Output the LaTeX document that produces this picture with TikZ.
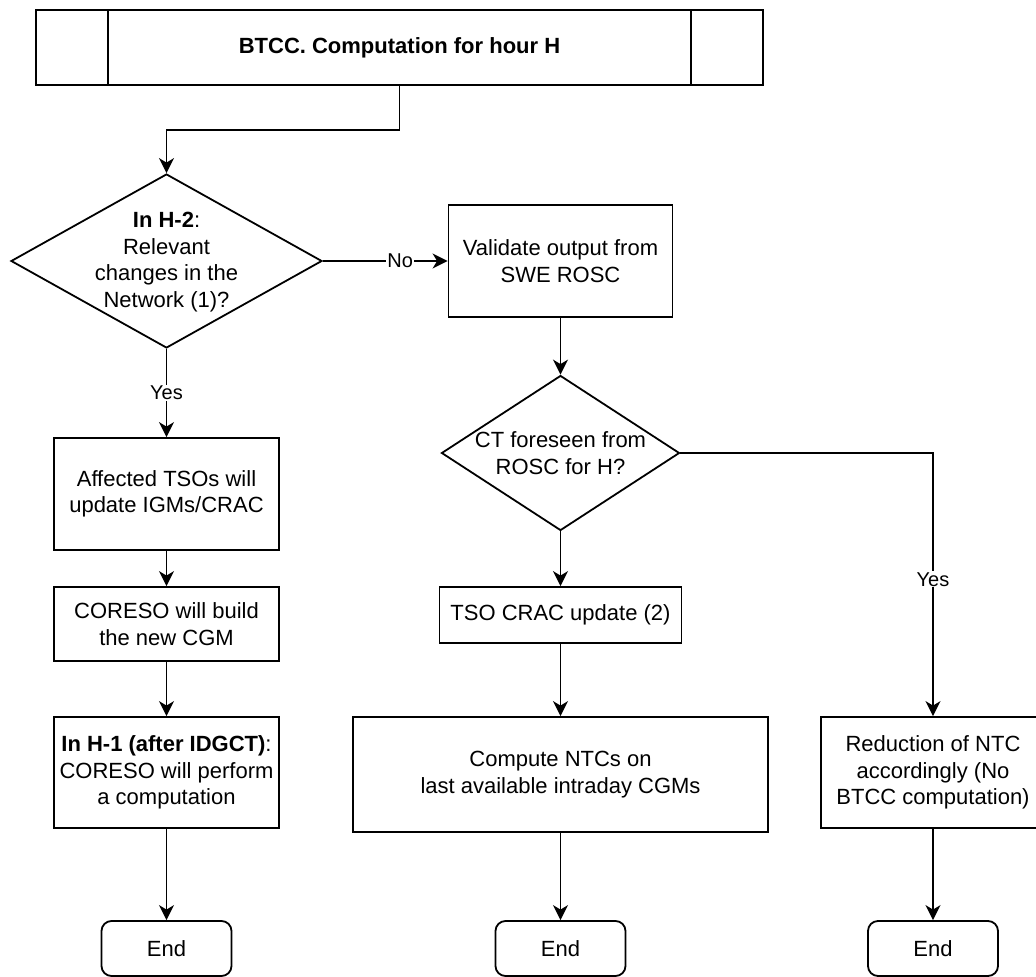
\documentclass[tikz,border=0pt]{standalone}
\usepackage{fontspec}
\setmainfont{Liberation Sans}
\usetikzlibrary{shapes.geometric,arrows.meta}
\begin{document}
\begin{tikzpicture}[x=1pt,y=-1pt,
  box/.style={draw, line width=1.8pt, rectangle, inner sep=0pt, align=center, font=\fontsize{22}{26.6}\selectfont},
  dia/.style={draw, line width=1.8pt, diamond, inner sep=0pt},
  txt/.style={align=center, font=\fontsize{22}{26.6}\selectfont, inner sep=0pt},
  endbox/.style={box, rounded corners=10pt, minimum width=130pt, minimum height=55pt},
  arr/.style={line width=1.8pt, -{Stealth[length=15pt,width=15pt,inset=4.5pt]}},
  lbl/.style={fill=white, inner sep=1pt, font=\fontsize{20}{23}\selectfont}]
\useasboundingbox (0,0) rectangle (1036,977);
\clip (0,0) rectangle (1036,977);
\fill[white] (0,0) rectangle (1036,977);

% top process box
\node[box, minimum width=727pt, minimum height=75pt] (top) at (399.5,47.5) {\textbf{BTCC. Computation for hour H}};
\draw[line width=1.8pt] ([xshift=73pt]top.north west) -- ([xshift=73pt]top.south west);
\draw[line width=1.8pt] ([xshift=-73pt]top.north east) -- ([xshift=-73pt]top.south east);

% decision 1
\node[dia, minimum width=311pt, minimum height=174pt] (d1) at (166.5,261) {};
\node[txt] (d1t) at (166.5,262) {\textbf{In H-2}:\\Relevant\\changes in the\\Network (1)?};

% left column
\node[box, minimum width=225pt, minimum height=112pt] (aff) at (166.5,494) {Affected TSOs will\\update IGMs/CRAC};
\node[box, minimum width=225pt, minimum height=74pt] (cor) at (166.5,624) {CORESO will build\\the new CGM};
\node[box, minimum width=225pt, minimum height=111pt] (h1) at (166.5,772.5) {\textbf{In H-1 (after IDGCT)}:\\CORESO will perform\\a computation};
\node[endbox] (e1) at (166.5,948.5) {End};

% middle column
\node[box, minimum width=224pt, minimum height=112pt] (val) at (560.5,261) {Validate output from\\SWE ROSC};
\node[dia, minimum width=238pt, minimum height=155pt] (d2) at (560.5,453) {};
\node[txt] (d2t) at (560.5,453) {CT foreseen from\\ROSC for H?};
\node[box, minimum width=242pt, minimum height=56pt] (tso) at (560.5,615) {TSO CRAC update (2)};
\node[box, minimum width=415pt, minimum height=115pt] (comp) at (560.5,774.5) {Compute NTCs on\\last available intraday CGMs};
\node[endbox] (e2) at (560.5,948.5) {End};

% right column
\node[box, minimum width=224pt, minimum height=111pt] (red) at (933,772.5) {Reduction of NTC\\accordingly (No\\BTCC computation)};
\node[endbox] (e3) at (933,948.5) {End};

% connectors
\draw[arr] (top.south) -- ++(0,44) -| (d1.north);
\draw[arr] (d1.east) -- node[lbl, pos=0.62] {No} (val.west);
\draw[arr] (d1.south) -- node[lbl, pos=0.5] {Yes} (aff.north);
\draw[arr] (aff) -- (cor);
\draw[arr] (cor) -- (h1);
\draw[arr] (h1) -- (e1);
\draw[arr] (val) -- (d2.north);
\draw[arr] (d2.south) -- (tso.north);
\draw[arr] (tso) -- (comp);
\draw[arr] (comp) -- (e2);
\draw[arr] (d2.east) -| node[lbl, pos=0.74] {Yes} (red.north);
\draw[arr] (red) -- (e3);
\end{tikzpicture}
\end{document}
